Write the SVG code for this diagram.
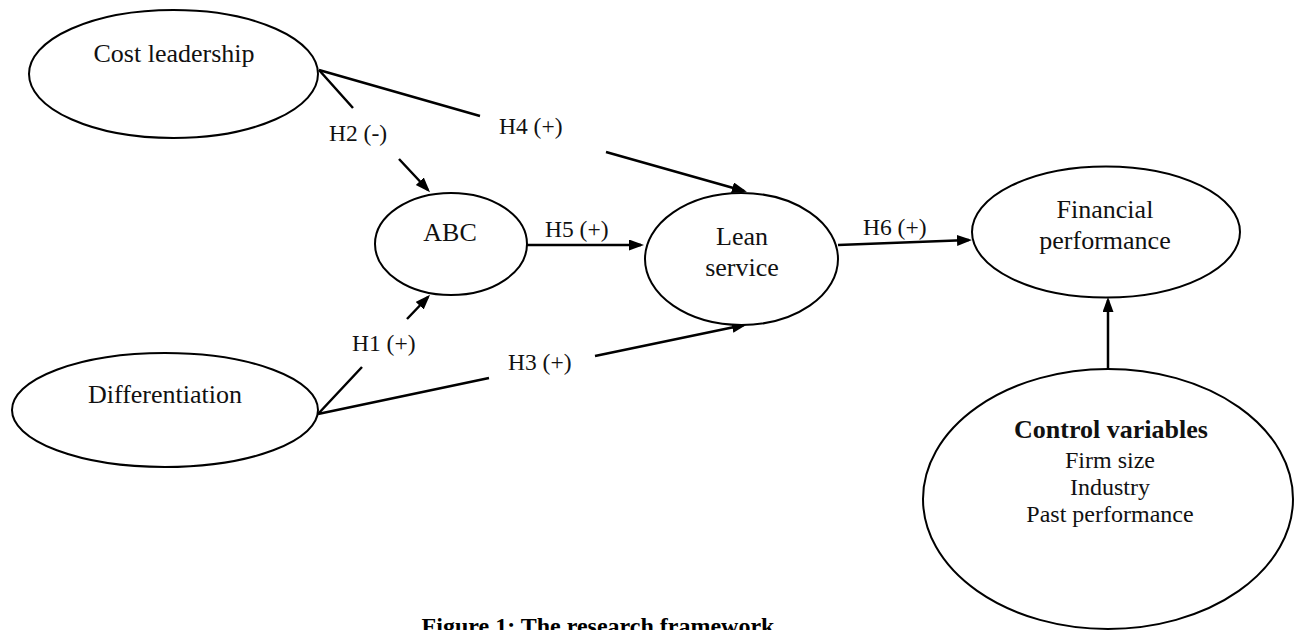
<svg xmlns="http://www.w3.org/2000/svg" width="1302" height="630" viewBox="0 0 1302 630">
<style>
.node ellipse{fill:#fff;stroke:#000;stroke-width:2}
.lbl{font-family:"Liberation Serif","Times New Roman",serif;font-size:26px;fill:#111;text-anchor:middle}
.lst{font-family:"Liberation Serif","Times New Roman",serif;font-size:24px;fill:#111;text-anchor:middle}
.bold{font-weight:bold}
.edge{fill:none;stroke:#000;stroke-width:2.5;marker-end:url(#arr)}
.elbl{font-family:"Liberation Serif","Times New Roman",serif;font-size:23.5px;fill:#111}
.cap{font-family:"Liberation Serif","Times New Roman",serif;font-size:24px;font-weight:bold;fill:#000;text-anchor:middle}
</style>
<defs>
<marker id="arr" markerUnits="userSpaceOnUse" markerWidth="16" markerHeight="12" refX="12" refY="5.5" orient="auto">
<path d="M0,0 L15,5.5 L0,11 z" fill="#000"/>
</marker>
</defs>
<rect width="1302" height="630" fill="#fff"/>
<g id="connectors">
<path class="edge" d="M319,70 L353,108 M399,159 L428,190"/>
<path class="edge" d="M319,70 L480,116 M606,152 L744,191"/>
<path class="edge" d="M318,414 L362,367 M407,319 L428,297"/>
<path class="edge" d="M318,414 L489,378 M595,356 L744,325"/>
<path class="edge" d="M527,245 L641,245"/>
<path class="edge" d="M838,245 L969,240"/>
<path class="edge" d="M1108,369 L1108,300"/>
<text class="elbl" x="329" y="141">H2 (-)</text>
<text class="elbl" x="499" y="134">H4 (+)</text>
<text class="elbl" x="545" y="237">H5 (+)</text>
<text class="elbl" x="863" y="235">H6 (+)</text>
<text class="elbl" x="352" y="351">H1 (+)</text>
<text class="elbl" x="508" y="370">H3 (+)</text>
</g>
<g id="cost-leadership" class="node">
<ellipse cx="173.5" cy="74" rx="144.5" ry="64"/>
<text class="lbl" x="174" y="62">Cost leadership</text>
</g>
<g id="differentiation" class="node">
<ellipse cx="165" cy="410" rx="153" ry="57"/>
<text class="lbl" x="165" y="403">Differentiation</text>
</g>
<g id="abc" class="node">
<ellipse cx="451" cy="244" rx="76" ry="51"/>
<text class="lbl" x="450" y="241">ABC</text>
</g>
<g id="lean-service" class="node">
<ellipse cx="741.5" cy="259" rx="96.5" ry="66"/>
<text class="lbl" x="742" y="245">Lean</text>
<text class="lbl" x="742" y="276">service</text>
</g>
<g id="financial-performance" class="node">
<ellipse cx="1106" cy="232" rx="134" ry="65.5"/>
<text class="lbl" x="1105" y="218">Financial</text>
<text class="lbl" x="1105" y="249">performance</text>
</g>
<g id="control-variables" class="node">
<ellipse cx="1108" cy="499" rx="185" ry="130"/>
<text class="lbl bold" x="1111" y="438">Control variables</text>
<text class="lst" x="1110" y="468">Firm size</text>
<text class="lst" x="1110" y="495">Industry</text>
<text class="lst" x="1110" y="522">Past performance</text>
</g>
<text class="cap" x="598" y="634">Figure 1: The research framework</text>
</svg>
